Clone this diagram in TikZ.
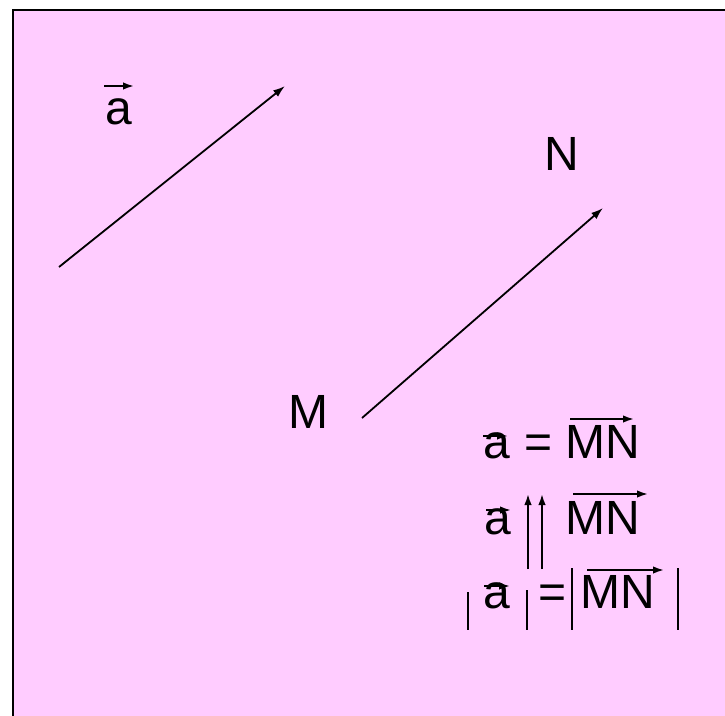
\documentclass[tikz,border=0pt]{standalone}
\usepackage{fontspec}
\setmainfont{Liberation Sans}
\usetikzlibrary{arrows.meta}
\definecolor{bgpink}{RGB}{255,204,255}
\begin{document}
\begin{tikzpicture}[x=1pt,y=-1pt,
  lbl/.style={font=\fontsize{48}{52}\selectfont, inner sep=0pt, anchor=base},
  vec/.style={line width=1.8pt, -{Latex[length=12pt,width=8pt]}},
  ovec/.style={line width=1.8pt, -{Latex[length=11pt,width=7.5pt]}},
  barline/.style={line width=1.8pt}]
\useasboundingbox (0,0) rectangle (725,715);
\clip (0,0) rectangle (725,715);
\draw[fill=bgpink, line width=2.2pt] (13,10) rectangle (745,735);

% vector a
\coordinate (aS) at (59,267);
\coordinate (aE) at (285,86);
\draw[vec] (aS) -- (aE);
\node[lbl] (la) at (119,124) {a};
\coordinate (laL) at (104,86); \coordinate (laR) at (134,86);
\draw[ovec] (laL) -- (laR);

% vector MN
\node[lbl] (M) at (308,428) {M};
\node[lbl] (N) at (562,170) {N};
\coordinate (mnS) at (362,418);
\coordinate (mnE) at (603,208);
\draw[vec] (mnS) -- (mnE);

% row 1: a = MN
\node[lbl] (r1a) at (497,458) {a};
\node[lbl] (r1eq) at (539,458) {=};
\node[lbl] (r1mn) at (603,458) {MN};
\coordinate (r1aL) at (483,436); \coordinate (r1aR) at (508,436);
\draw[ovec] (r1aL) -- (r1aR);
\coordinate (r1mL) at (570,419); \coordinate (r1mR) at (634,419);
\draw[ovec] (r1mL) -- (r1mR);

% row 2: a up-up MN
\node[lbl] (r2a) at (498,534) {a};
\node[lbl] (r2mn) at (603,534) {MN};
\coordinate (r2aL) at (486,510); \coordinate (r2aR) at (511,510);
\draw[ovec] (r2aL) -- (r2aR);
\coordinate (r2mL) at (573,494); \coordinate (r2mR) at (648,494);
\draw[ovec] (r2mL) -- (r2mR);
\coordinate (up1b) at (528,569); \coordinate (up1t) at (528,494);
\coordinate (up2b) at (542,569); \coordinate (up2t) at (542,494);
\draw[ovec] (up1b) -- (up1t);
\draw[ovec] (up2b) -- (up2t);

% row 3: |a| = |MN|
\node[lbl] (r3a) at (497,608) {a};
\node[lbl] (r3eq) at (553,608) {=};
\node[lbl] (r3mn) at (618,608) {MN};
\coordinate (r3aL) at (484,586); \coordinate (r3aR) at (510,586);
\draw[ovec] (r3aL) -- (r3aR);
\coordinate (r3mL) at (587,570); \coordinate (r3mR) at (664,570);
\draw[ovec] (r3mL) -- (r3mR);
\coordinate (b1t) at (468,592); \coordinate (b1b) at (468,630);
\coordinate (b2t) at (527,590); \coordinate (b2b) at (527,630);
\coordinate (b3t) at (572,568); \coordinate (b3b) at (572,630);
\coordinate (b4t) at (678,568); \coordinate (b4b) at (678,630);
\draw[barline] (b1t) -- (b1b);
\draw[barline] (b2t) -- (b2b);
\draw[barline] (b3t) -- (b3b);
\draw[barline] (b4t) -- (b4b);
\end{tikzpicture}
\end{document}
